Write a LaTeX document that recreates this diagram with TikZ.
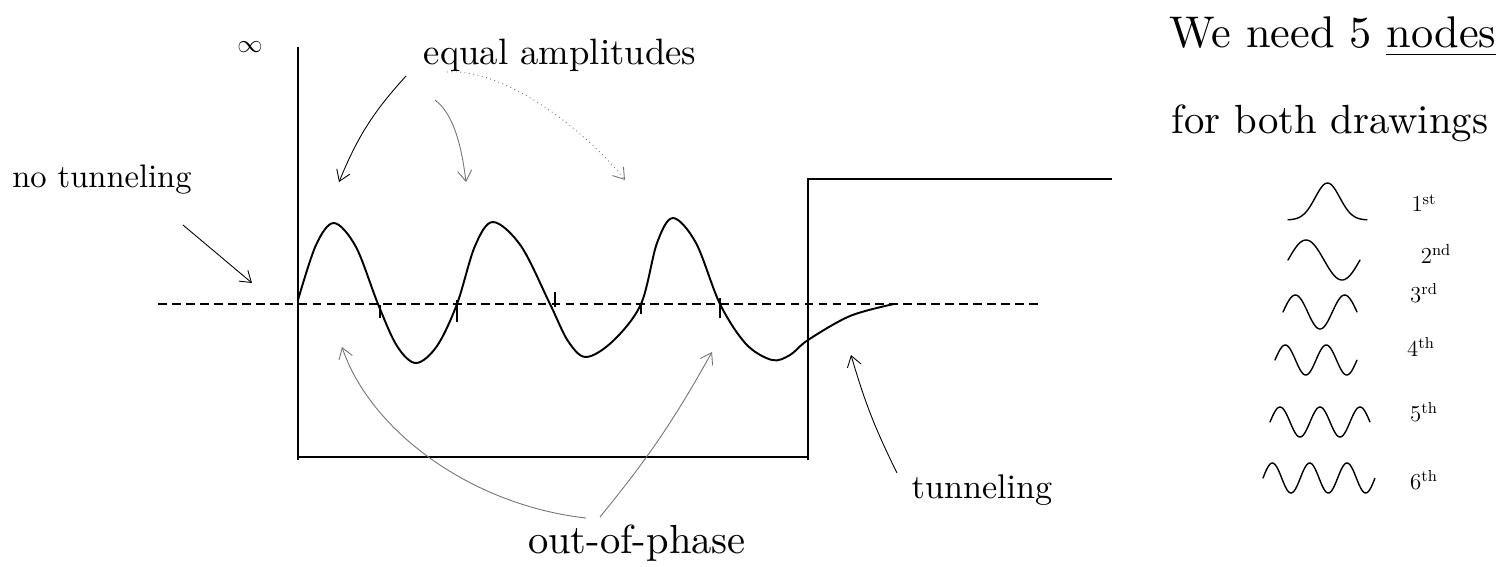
\documentclass[tikz,border=0pt]{standalone}
\usetikzlibrary{arrows.meta}
\begin{document}
\begin{tikzpicture}[x=0.02cm,y=-0.02cm,
  wall/.style={line width=1.3pt},
  wavefn/.style={line width=1.1pt, line join=round, line cap=round},
  ax/.style={line width=0.5pt, -{Straight Barb[length=6pt,width=8pt]}},
  faint/.style={ax, black!55},
  hand/.style={inner sep=0pt},
  mini/.style={line width=0.8pt, line cap=round},
  ord/.style={inner sep=0pt, font=\fontsize{13}{13}\selectfont},
  tick/.style={line width=0.6pt}]
\useasboundingbox (0,0) rectangle (1498,566);

% potential well
\draw[wall] (298,47) -- (298,460);
\draw[wall] (298,457) -- (808,457) -- (808,179) -- (1112,179);
\draw[wall] (808,457) -- (808,460);

% axis (energy level)
\draw[line width=1pt, dash pattern=on 5pt off 3pt] (158,304) -- (1043,304);

% wave function
\draw[wavefn] plot[smooth, tension=0.55] coordinates {(298,300) (316,245) (334,223) (356,247) (378,304) (397,346) (416,363) (437,346) (457,304) (475,246) (493,222) (521,246) (550,304) (568,341) (586,357) (613,341) (641,304) (657,243) (673,218) (696,243) (720,304) (746,344) (772,360) (790,355) (808,340) (850,316) (894,304)};

% node ticks
\foreach \x/\a/\b in {380/305/318, 457/300/322, 555/292/307, 641/303/314, 720/298/318}
  \draw[tick] (\x,\a) -- (\x,\b);

% texts
\node[hand] (inf) at (250,47) {\fontsize{15}{15}\selectfont$\infty$};
\node[hand] (eq) at (560,55) {\resizebox{155pt}{!}{equal amplitudes}};
\node[hand] (nt) at (102,180) {\resizebox{102pt}{!}{no tunneling}};
\node[hand] (op) at (637,543) {\resizebox{124pt}{!}{out-of-phase}};
\node[hand] (tn) at (982,490) {\resizebox{80pt}{!}{tunneling}};
\node[hand] (we) at (1333,37) {\resizebox{186pt}{!}{We need 5 \underline{nodes}}};
\node[hand] (fb) at (1330,123) {\resizebox{180pt}{!}{for both drawings}};

% arrow end points
\coordinate (eqA) at (406,76);
\coordinate (eqB) at (435,100);
\coordinate (eqC) at (447,72);
\coordinate (pk1) at (339,182);
\coordinate (pk2) at (466,182);
\coordinate (pk3) at (625,180);
\coordinate (ntA) at (183,225);
\coordinate (ntB) at (252,283);
\coordinate (opA) at (586,518);
\coordinate (opB) at (600,517);
\coordinate (tr1) at (342,347);
\coordinate (tr3) at (712,352);
\coordinate (tnA) at (897,473);
\coordinate (tnB) at (851,355);

% arrows
\draw[ax] (eqA) to[bend right=10] (pk1);
\draw[faint] (eqB) .. controls (455,115) and (462,150) .. (pk2);
\draw[faint, dotted] (eqC) .. controls (505,68) and (585,130) .. (pk3);
\draw[ax] (ntA) -- (ntB);
\draw[faint] (opA) .. controls (470,505) and (370,430) .. (tr1);
\draw[faint] (opB) to[bend right=5] (tr3);
\draw[ax] (tnA) to[bend left=5] (tnB);

% mini wave functions
\draw[mini] plot[domain=0:1, samples=60, variable=\t] ({1288+79*\t}, {220-37*exp(-((\t-0.5)/0.22)^2)});
\draw[mini] plot[domain=0:1, samples=60, variable=\t] ({1288+72*\t}, {260-20*sin(360*\t)});
\draw[mini] plot[domain=0:1, samples=60, variable=\t] ({1283+74*\t}, {312-17*sin(540*\t)});
\draw[mini] plot[domain=0:1, samples=80, variable=\t] ({1275+82*\t}, {360-15*sin(720*\t)});
\draw[mini] plot[domain=0:1, samples=80, variable=\t] ({1270+100*\t}, {422-15*sin(900*\t)});
\draw[mini] plot[domain=0:1, samples=100, variable=\t] ({1263+112*\t}, {478-15*sin(1080*\t)});

% order labels
\node[ord] (l1) at (1424,203) {1\textsuperscript{st}};
\node[ord] (l2) at (1436,254) {2\textsuperscript{nd}};
\node[ord] (l3) at (1424,293) {3\textsuperscript{rd}};
\node[ord] (l4) at (1421,347) {4\textsuperscript{th}};
\node[ord] (l5) at (1424,412) {5\textsuperscript{th}};
\node[ord] (l6) at (1424,480) {6\textsuperscript{th}};
\end{tikzpicture}
\end{document}
